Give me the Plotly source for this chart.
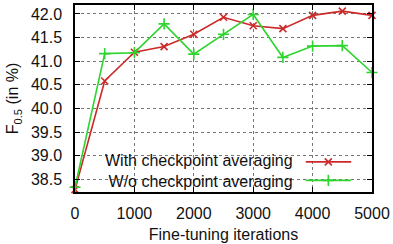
import plotly.graph_objects as go

iterations = [0, 500, 1000, 1500, 2000, 2500, 3000, 3500, 4000, 4500, 5000]
with_avg = [38.28, 40.58, 41.19, 41.31, 41.57, 41.93, 41.75, 41.69, 41.97, 42.06, 41.97]
without_avg = [38.33, 41.16, 41.18, 41.79, 41.15, 41.57, 41.99, 41.08, 41.32, 41.33, 40.76]
series_names = ["With checkpoint averaging", "W/o checkpoint averaging"]
x_ticks = [0, 1000, 2000, 3000, 4000, 5000]
y_ticks = [38.5, 39.0, 39.5, 40.0, 40.5, 41.0, 41.5, 42.0]

RED = "#cc2a2a"
GREEN = "#2fd42f"
FONT = "Liberation Sans, Arial, sans-serif"

fig = go.Figure()
fig.add_trace(go.Scatter(x=iterations, y=with_avg, mode="lines+markers",
                         line=dict(color=RED, width=1.6),
                         marker=dict(symbol="x-thin-open", size=7, line=dict(color=RED, width=1.6)),
                         showlegend=False, cliponaxis=False))
fig.add_trace(go.Scatter(x=iterations, y=without_avg, mode="lines+markers",
                         line=dict(color=GREEN, width=1.6),
                         marker=dict(symbol="cross-thin-open", size=8, line=dict(color=GREEN, width=1.6)),
                         showlegend=False, cliponaxis=False))

# gnuplot-style legend (sample on the right of the text) on overlay axes
leg_y = [0.161, 0.062]
for col, sym, ly, sz in [(RED, "x-thin-open", leg_y[0], 7),
                         (GREEN, "cross-thin-open", leg_y[1], 8)]:
    fig.add_trace(go.Scatter(x=[0.777, 0.93], y=[ly, ly], mode="lines", line=dict(color=col, width=1.6),
                             xaxis="x2", yaxis="y2", showlegend=False, hoverinfo="skip"))
    fig.add_trace(go.Scatter(x=[0.853], y=[ly], mode="markers",
                             marker=dict(symbol=sym, size=sz, color=col, line=dict(color=col, width=1.6)),
                             xaxis="x2", yaxis="y2", showlegend=False, hoverinfo="skip"))
fig.add_annotation(x=0.74, y=(leg_y[0] + leg_y[1]) / 2, xref="x2", yref="y2",
                   text="<br>".join(series_names), showarrow=False, align="right",
                   xanchor="right", yanchor="middle", font=dict(size=16, color="#111", family=FONT))

fig.update_layout(
    width=393, height=244,
    margin=dict(l=75, r=21, t=3, b=50),
    paper_bgcolor="white", plot_bgcolor="white",
    font=dict(family=FONT, size=16, color="#111"),
    xaxis=dict(range=[0, 5000], tickvals=x_ticks, ticktext=[str(v) for v in x_ticks],
               showline=True, linecolor="black", linewidth=1.5, mirror="allticks",
               ticks="inside", ticklen=5, tickcolor="black", ticklabelstandoff=6,
               showgrid=True, gridcolor="#777", griddash="dot", gridwidth=1,
               zeroline=False, tickfont=dict(size=16),
               title=dict(text="Fine-tuning iterations", font=dict(size=16), standoff=8)),
    yaxis=dict(range=[38.23, 42.19], tickvals=y_ticks, ticktext=[f"{v:.1f}" for v in y_ticks],
               showline=True, linecolor="black", linewidth=1.5, mirror="allticks",
               ticks="inside", ticklen=5, tickcolor="black", ticklabelstandoff=8,
               showgrid=True, gridcolor="#777", griddash="dot", gridwidth=1,
               zeroline=False, tickfont=dict(size=16),
               title=dict(text="F<sub>0.5</sub> (in %)", font=dict(size=16), standoff=8)),
    xaxis2=dict(range=[0, 1], overlaying="x", visible=False, fixedrange=True),
    yaxis2=dict(range=[0, 1], overlaying="y", visible=False, fixedrange=True),
)

fig.write_html("out.html")
